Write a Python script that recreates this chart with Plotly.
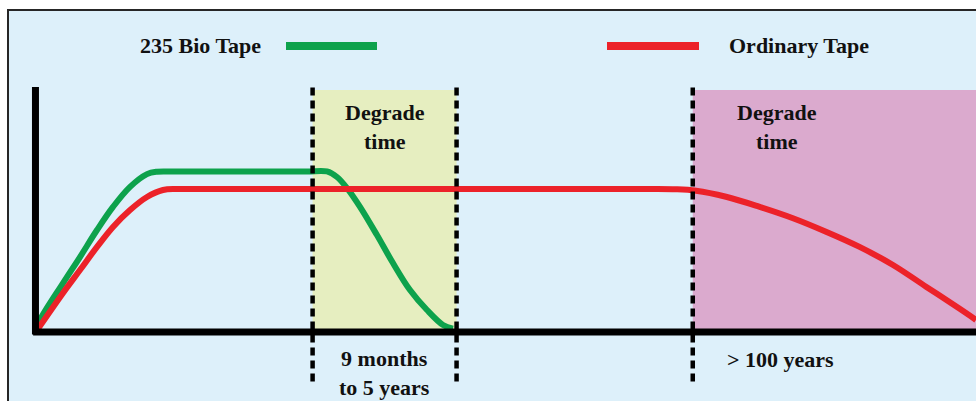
import plotly.graph_objects as go

# ---- data (time in arbitrary units 0-100, strength in arbitrary units 0-100) ----
bio_x = [0.2, 0.53, 2.98, 4.78, 6.59, 8.29, 10.10, 11.9, 12.97, 14.35, 17.0, 20.0, 23.0, 26.0, 29.0, 31.03, 32.09, 33.16, 34.54, 36.34, 38.04, 39.85, 41.66, 43.36, 44.42]
bio_y = [0.8, 4.6, 19.9, 30.7, 41.9, 51.5, 59.8, 65.1, 66.1, 66.2, 66.2, 66.2, 66.2, 66.2, 66.2, 66.2, 63.9, 59.3, 51.5, 39.8, 28.2, 17.0, 8.7, 2.5, 1.0]

ord_x = [0.3, 2.98, 4.78, 6.59, 8.29, 10.10, 11.9, 13.6, 15.09, 18.0, 24.0, 30.0, 36.0, 42.0, 48.0, 54.0, 60.0, 65.0, 68.12, 70.24, 73.43, 76.94, 80.55, 84.06, 87.57, 91.18, 94.69, 98.19, 100.0]
ord_y = [0.8, 15.8, 25.3, 34.9, 43.2, 50.2, 55.6, 58.5, 58.9, 58.9, 58.9, 58.9, 58.9, 58.9, 58.9, 58.9, 58.9, 58.9, 58.8, 58.2, 55.7, 51.6, 46.8, 41.2, 35.0, 27.4, 18.4, 9.4, 4.6]

series_names = ["235 Bio Tape", "Ordinary Tape"]
bio_window = [29.5, 44.8]      # "9 months to 5 years"
ord_window_start = 69.9        # "> 100 years"
window_labels = ["9 months<br>to 5 years", "> 100 years"]
region_label = "Degrade<br>time"

# ---- styling ----
GREEN = "#0DA24C"
RED = "#EC2229"
BG = "#DDF0FA"
YELLOW = "#E6EEC0"
PINK = "#DBAACE"
FONT = "Liberation Serif"

W, H = 976, 401
# axis ranges chosen so that the plot area spans the whole image
px_per_x = 9.41
px_per_y = 2.41
x_range = [-35 / px_per_x, (W - 35) / px_per_x]
y_range = [-(H - 331) / px_per_y, 331 / px_per_y]

fig = go.Figure()

fig.add_trace(go.Scatter(x=bio_x, y=bio_y, mode="lines", name=series_names[0],
                         line=dict(color=GREEN, width=6, shape="spline", smoothing=1.0),
                         showlegend=False, hoverinfo="skip"))
fig.add_trace(go.Scatter(x=ord_x, y=ord_y, mode="lines", name=series_names[1],
                         line=dict(color=RED, width=6, shape="spline", smoothing=1.0),
                         showlegend=False, hoverinfo="skip"))

top = 100.0
dash_bottom = -(383 - 331) / px_per_y
x_left = x_range[0]

shapes = []
# outer frame / background
shapes.append(dict(type="rect", xref="x", yref="y", x0=x_left + 8 / px_per_x, x1=x_range[1] + 2,
                   y0=y_range[0] - 2, y1=y_range[1] - 10 / px_per_y,
                   fillcolor=BG, line=dict(color="#262626", width=2), layer="below"))
# degrade regions
shapes.append(dict(type="rect", xref="x", yref="y", x0=bio_window[0], x1=bio_window[1], y0=0, y1=top,
                   fillcolor=YELLOW, line=dict(width=0), layer="below"))
shapes.append(dict(type="rect", xref="x", yref="y", x0=ord_window_start, x1=x_range[1] + 2, y0=0, y1=top,
                   fillcolor=PINK, line=dict(width=0), layer="below"))
# dashed boundaries
for xv in [bio_window[0], bio_window[1], ord_window_start]:
    shapes.append(dict(type="line", xref="x", yref="y", x0=xv, x1=xv, y0=top + 1, y1=dash_bottom,
                       line=dict(color="black", width=4.5, dash="8px,5px"), layer="above"))
# axes lines
shapes.append(dict(type="line", xref="x", yref="y", x0=-0.2, x1=x_range[1] + 2, y0=-0.4, y1=-0.4,
                   line=dict(color="black", width=7), layer="above"))
shapes.append(dict(type="line", xref="x", yref="y", x0=0.05, x1=0.05, y0=-1.5, y1=101.2,
                   line=dict(color="black", width=7), layer="above"))
# legend swatches
leg_y = (331 - 46) / px_per_y
shapes.append(dict(type="line", xref="x", yref="y", x0=(286 - 35) / px_per_x, x1=(377 - 35) / px_per_x,
                   y0=leg_y, y1=leg_y, line=dict(color=GREEN, width=8)))
shapes.append(dict(type="line", xref="x", yref="y", x0=(607 - 35) / px_per_x, x1=(699 - 35) / px_per_x,
                   y0=leg_y, y1=leg_y, line=dict(color=RED, width=8)))

fnt = dict(family=FONT, size=22, color="#111111")
ann = []
ann.append(dict(x=(200.5 - 35) / px_per_x, y=(331 - 45) / px_per_y, text="<b>" + series_names[0] + "</b>",
                showarrow=False, font=fnt, xanchor="center", yanchor="middle"))
ann.append(dict(x=(798.5 - 35) / px_per_x, y=(331 - 45) / px_per_y, text="<b>" + series_names[1] + "</b>",
                showarrow=False, font=fnt, xanchor="center", yanchor="middle"))
ann.append(dict(x=(bio_window[0] + bio_window[1]) / 2, y=(331 - 127) / px_per_y, text="<b>" + region_label + "</b>",
                showarrow=False, font=fnt, xanchor="center", yanchor="middle"))
ann.append(dict(x=(777 - 35) / px_per_x, y=(331 - 127) / px_per_y, text="<b>" + region_label + "</b>",
                showarrow=False, font=fnt, xanchor="center", yanchor="middle"))
ann.append(dict(x=(bio_window[0] + bio_window[1]) / 2, y=(331 - 373) / px_per_y, text="<b>" + window_labels[0] + "</b>",
                showarrow=False, font=fnt, xanchor="center", yanchor="middle"))
ann.append(dict(x=(780 - 35) / px_per_x, y=(331 - 359) / px_per_y, text="<b>" + window_labels[1] + "</b>",
                showarrow=False, font=fnt, xanchor="center", yanchor="middle"))

fig.update_layout(
    width=W, height=H,
    margin=dict(l=0, r=0, t=0, b=0),
    paper_bgcolor="white", plot_bgcolor="white",
    shapes=shapes, annotations=ann,
    xaxis=dict(range=x_range, visible=False, fixedrange=True),
    yaxis=dict(range=y_range, visible=False, fixedrange=True),
    showlegend=False,
)

fig.write_html("out.html", config={"displayModeBar": False},
               post_script="document.body.style.margin='0';document.body.style.overflow='hidden';")
